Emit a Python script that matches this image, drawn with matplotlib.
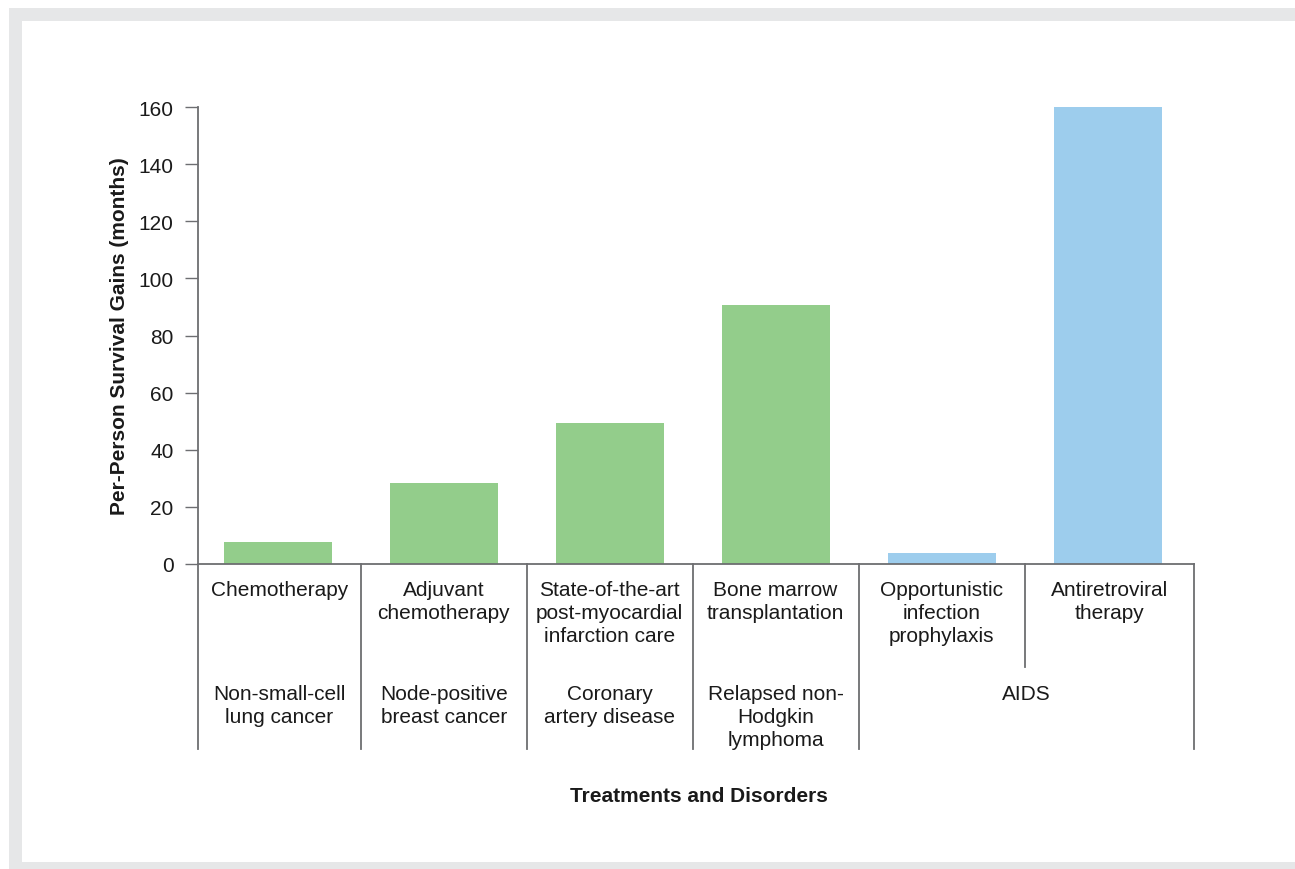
import matplotlib.pyplot as plt
from matplotlib.patches import Rectangle

# survival gains per treatment (months)
treatments = ["Chemotherapy", "Adjuvant\nchemotherapy",
              "State-of-the-art\npost-myocardial\ninfarction care",
              "Bone marrow\ntransplantation",
              "Opportunistic\ninfection\nprophylaxis",
              "Antiretroviral\ntherapy"]
gains = [7.7, 28.4, 49.4, 90.7, 3.9, 160.3]
groups = ["cancer", "cancer", "heart", "cancer", "aids", "aids"]

# disorder labels and how many treatments each spans
disorders = ["Non-small-cell\nlung cancer", "Node-positive\nbreast cancer",
             "Coronary\nartery disease", "Relapsed non-\nHodgkin\nlymphoma", "AIDS"]
disorder_span = [1, 1, 1, 1, 2]

yticks = [0, 20, 40, 60, 80, 100, 120, 140, 160]

GREEN = "#93CD8B"
BLUE = "#9DCDED"
LINE = "#6D6E71"
FRAME = "#E6E7E8"
TEXT = "#1a1a1a"

plt.rcParams["font.family"] = ["Liberation Sans", "DejaVu Sans"]

W, H = 1295, 870
fig = plt.figure(figsize=(W / 100, H / 100), dpi=100)

# grey frame around the panel
fig.patches.append(Rectangle((9 / W, 0), 1, 1 - 9 / H, transform=fig.transFigure,
                             facecolor=FRAME, edgecolor="none", zorder=-2))
fig.patches.append(Rectangle((22 / W, 7 / H), 1, 1 - 22 / H - 7 / H,
                             transform=fig.transFigure,
                             facecolor="white", edgecolor="none", zorder=-1))

ax = fig.add_axes([198 / W, 1 - 565 / H, (1194 - 198) / W, (565 - 108) / H])
ax.patch.set_visible(False)

x0, x1 = -0.48, len(gains) - 0.48
colors = [BLUE if g == "aids" else GREEN for g in groups]
ax.bar(range(len(gains)), gains, width=0.65, color=colors, zorder=2)

ax.set_xlim(x0, x1)
ax.set_ylim(0, 160)
ax.set_yticks(yticks)
ax.set_xticks([])
ax.tick_params(axis="y", length=9.5, width=1.0, color=LINE, pad=8,
               labelsize=15, labelcolor=TEXT)
for s in ["top", "right", "left"]:
    ax.spines[s].set_visible(False)
ax.spines["bottom"].set_color(LINE)
ax.spines["bottom"].set_linewidth(1.3)
ax.spines["bottom"].set_zorder(3)

tr = ax.get_xaxis_transform()
low = -0.405

# y axis line running down through the label table
ax.plot([x0, x0], [1, low], transform=tr, color=LINE, lw=1.3, clip_on=False)
ax.plot([x1, x1], [0, low], transform=tr, color=LINE, lw=1.3, clip_on=False)

bounds = [x0] + [i + 0.5 for i in range(len(gains) - 1)] + [x1]

# treatment names under each bar
for i, name in enumerate(treatments):
    cx = (bounds[i] + bounds[i + 1]) / 2
    ax.text(cx, -0.035, name, transform=tr, ha="center", va="top",
            fontsize=15, linespacing=1.27, color=TEXT)

# disorder names and dividers
k = 0
for name, span in zip(disorders, disorder_span):
    left, right = bounds[k], bounds[k + span]
    ax.text((left + right) / 2, -0.263, name, transform=tr, ha="center", va="top",
            fontsize=15, linespacing=1.27, color=TEXT)
    for j in range(k + 1, k + span):
        ax.plot([bounds[j], bounds[j]], [0, -0.225], transform=tr,
                color=LINE, lw=1.3, clip_on=False)
    if k + span < len(gains):
        ax.plot([right, right], [0, low], transform=tr, color=LINE, lw=1.3,
                clip_on=False)
    k += span

ax.set_ylabel("Per-Person Survival Gains (months)", fontsize=15,
              fontweight="bold", color=TEXT)
ax.yaxis.set_label_coords(-0.069, 0.5)
fig.text(699 / W, 1 - 797 / H, "Treatments and Disorders", ha="center",
         va="center", fontsize=15, fontweight="bold", color=TEXT)

fig.savefig("out.png", dpi=100)
